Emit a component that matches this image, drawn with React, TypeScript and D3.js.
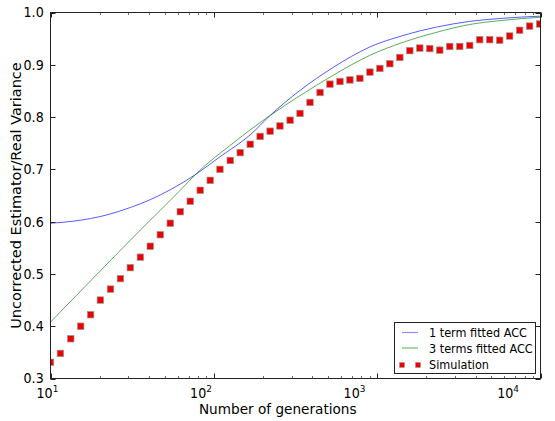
import React from "react";
import * as d3 from "d3";

// ---- data ----
const simGenerations = [10, 11.5, 13.3, 15.3, 17.6, 20.2, 23.3, 26.8, 30.8, 35.5, 40.8, 47.0, 54.1, 62.3, 71.7, 82.5, 95.0, 109, 126, 145, 167, 192, 221, 254, 293, 337, 388, 447, 514, 592, 681, 784, 903, 1039, 1196, 1377, 1585, 1824, 2100, 2417, 2782, 3203, 3687, 4244, 4886, 5624, 6474, 7452, 8578, 9874];
const simValues = [0.331, 0.348, 0.376, 0.400, 0.422, 0.450, 0.471, 0.491, 0.512, 0.532, 0.553, 0.575, 0.597, 0.619, 0.639, 0.660, 0.679, 0.700, 0.717, 0.732, 0.748, 0.763, 0.773, 0.783, 0.794, 0.807, 0.828, 0.847, 0.863, 0.868, 0.871, 0.874, 0.886, 0.893, 0.902, 0.914, 0.927, 0.932, 0.931, 0.928, 0.935, 0.935, 0.937, 0.948, 0.948, 0.947, 0.955, 0.966, 0.974, 0.978];

const oneTermGenerations = [10, 13.9, 22.2, 30.8, 40.8, 54.1, 78.8, 109, 167, 221, 337, 538, 901, 1440, 2303, 3679, 5877, 10000];
const oneTermValues = [0.597, 0.601, 0.613, 0.627, 0.642, 0.661, 0.692, 0.724, 0.766, 0.803, 0.851, 0.895, 0.934, 0.956, 0.972, 0.983, 0.989, 0.993];

const threeTermGenerations = [10, 18.8, 35.5, 62.3, 78.8, 126, 221, 337, 538, 901, 1440, 2303, 3679, 5877, 10000];
const threeTermValues = [0.408, 0.496, 0.584, 0.660, 0.693, 0.746, 0.803, 0.841, 0.880, 0.918, 0.943, 0.962, 0.977, 0.985, 0.991];

const yTicks = [0.3, 0.4, 0.5, 0.6, 0.7, 0.8, 0.9, 1.0];
const xMajorTicks = [10, 100, 1000, 10000];
const xMajorExponents = ["1", "2", "3", "4"];
const legendLabels = ["1 term fitted ACC", "3 terms fitted ACC", "Simulation"];

const xLabel = "Number of generations";
const yLabel = "Uncorrected Estimator/Real Variance";

export default function App() {
  const W = 555, H = 421;
  const L = 50.5, R = 540.5, T = 12.5, B = 378.5;
  const x = d3.scaleLog().domain([10, 10000]).range([L, R]);
  const y = d3.scaleLinear().domain([0.3, 1.0]).range([B, T]);

  const line = d3.line<[number, number]>()
    .x(d => x(d[0]))
    .y(d => y(d[1]))
    .curve(d3.curveMonotoneX);

  const blueD = line(oneTermGenerations.map((g, i) => [g, oneTermValues[i]] as [number, number])) || "";
  const greenD = line(threeTermGenerations.map((g, i) => [g, threeTermValues[i]] as [number, number])) || "";

  const minorTicks: number[] = [];
  for (let dec = 10; dec < 10000; dec *= 10) {
    for (let k = 2; k <= 9; k++) minorTicks.push(dec * k);
  }

  const font = "'DejaVu Sans', sans-serif";
  const textScale = 0.94;
  const blue = "#0000ff";
  const green = "#008000";
  const sq = 6.5;

  return (
    <svg width={W} height={H} style={{ position: "absolute", left: 0, top: 0, background: "#fff" }} fontFamily={font}>
      <rect x={0} y={0} width={W} height={H} fill="#fff" />
      <defs>
        <clipPath id="plotclip">
          <rect x={L} y={T} width={R - L} height={B - T} />
        </clipPath>
      </defs>
      <g clipPath="url(#plotclip)">
        <path d={blueD} fill="none" stroke={blue} strokeWidth={1} strokeOpacity={0.65} />
        <path d={greenD} fill="none" stroke={green} strokeWidth={1} strokeOpacity={0.65} />
        {simGenerations.map((g, i) => (
          <rect key={i} x={x(g) - sq / 2} y={y(simValues[i]) - sq / 2} width={sq} height={sq}
            fill="#ee0000" stroke="#999" strokeWidth={0.7} />
        ))}
      </g>
      {/* frame */}
      <rect x={L} y={T} width={R - L} height={B - T} fill="none" stroke="#222" strokeWidth={1} />
      {yTicks.map((t, i) => (
        <g key={"yt" + i}>
          <line x1={L} x2={L + 5} y1={Math.round(y(t)) + 0.5} y2={Math.round(y(t)) + 0.5} stroke="#222" />
          <line x1={R - 5} x2={R} y1={Math.round(y(t)) + 0.5} y2={Math.round(y(t)) + 0.5} stroke="#222" />
        </g>
      ))}
      {xMajorTicks.map((t, i) => (
        <g key={"xt" + i}>
          <line x1={Math.round(x(t)) + 0.5} x2={Math.round(x(t)) + 0.5} y1={B} y2={B - 5} stroke="#222" />
          <line x1={Math.round(x(t)) + 0.5} x2={Math.round(x(t)) + 0.5} y1={T} y2={T + 5} stroke="#222" />
        </g>
      ))}
      {minorTicks.map((t, i) => (
        <g key={"xm" + i}>
          <line x1={Math.round(x(t)) + 0.5} x2={Math.round(x(t)) + 0.5} y1={B} y2={B - 2.5} stroke="#444" strokeWidth={0.8} />
          <line x1={Math.round(x(t)) + 0.5} x2={Math.round(x(t)) + 0.5} y1={T} y2={T + 2.5} stroke="#444" strokeWidth={0.8} />
        </g>
      ))}
      {/* text, horizontally condensed like the reference */}
      <g transform={`scale(${textScale},1)`} fill="#000">
        {yTicks.map((t, i) => (
          <text key={"yl" + i} x={L - 4} y={y(t)} dy="0.36em" textAnchor="end" fontSize={13.5}>
            {t.toFixed(1)}
          </text>
        ))}
        {xMajorTicks.map((t, i) => (
          <text key={"xl" + i} x={x(t)} y={398.5} textAnchor="middle" fontSize={13.5}>
            10<tspan dy={-6.5} fontSize={9.5}>{xMajorExponents[i]}</tspan>
          </text>
        ))}
        <text x={(L + R) / 2} y={414} textAnchor="middle" fontSize={14.5}>{xLabel}</text>
        <text transform={`translate(22.5,${(T + B) / 2}) rotate(-90)`} textAnchor="middle" fontSize={14.5}>{yLabel}</text>
      </g>
      {/* legend */}
      <g>
        <rect x={394.5} y={322.5} width={141} height={51} fill="#fff" stroke="#222" strokeWidth={1} />
        <line x1={402} x2={418} y1={332.5} y2={332.5} stroke={blue} strokeOpacity={0.45} strokeWidth={1.2} />
        <line x1={402} x2={418} y1={348} y2={348} stroke={green} strokeOpacity={0.55} strokeWidth={1.2} />
        <rect x={399.5} y={362.5} width={5} height={5} fill="#ee0000" stroke="#999" strokeWidth={0.5} />
        <rect x={415.5} y={362.5} width={5} height={5} fill="#ee0000" stroke="#999" strokeWidth={0.5} />
        {legendLabels.map((lab, i) => (
          <text key={"lg" + i} x={429} y={332.5 + i * 16} dy="0.36em" fontSize={12} transform={`translate(${429 * (1 - textScale)},0) scale(${textScale},1)`}>
            {lab}
          </text>
        ))}
      </g>
    </svg>
  );
}
